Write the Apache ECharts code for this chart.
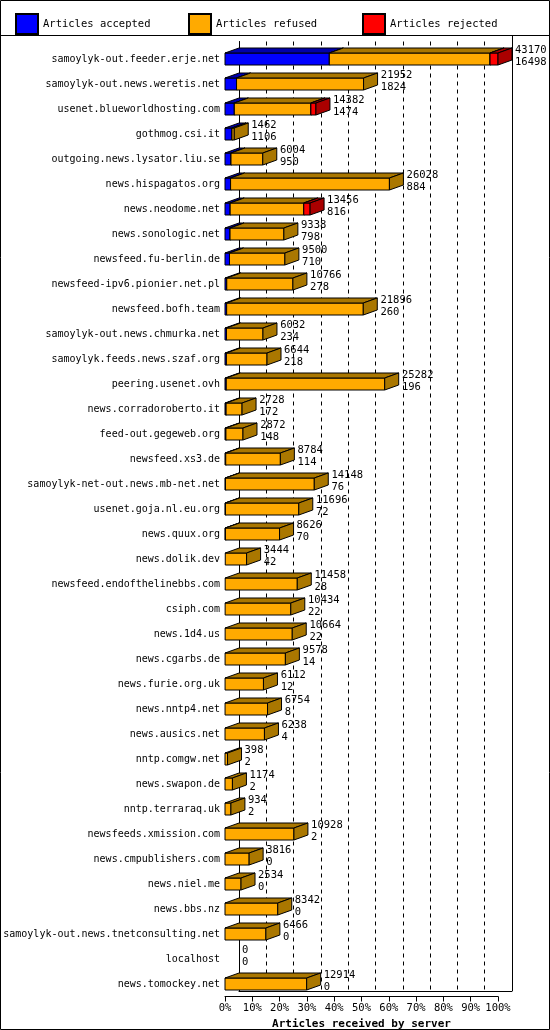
<!DOCTYPE html>
<html>
<head>
<meta charset="utf-8">
<script src="https://cdn.jsdelivr.net/npm/echarts@6/dist/echarts.min.js"></script>
<style>html,body{margin:0;padding:0;background:#fff}#main{width:550px;height:1030px}</style>
</head>
<body>
<div id="main"></div>
<script>
var servers = ['samoylyk-out.feeder.erje.net','samoylyk-out.news.weretis.net','usenet.blueworldhosting.com','gothmog.csi.it',
  'outgoing.news.lysator.liu.se','news.hispagatos.org','news.neodome.net','news.sonologic.net','newsfeed.fu-berlin.de',
  'newsfeed-ipv6.pionier.net.pl','newsfeed.bofh.team','samoylyk-out.news.chmurka.net','samoylyk.feeds.news.szaf.org',
  'peering.usenet.ovh','news.corradoroberto.it','feed-out.gegeweb.org','newsfeed.xs3.de','samoylyk-net-out.news.mb-net.net',
  'usenet.goja.nl.eu.org','news.quux.org','news.dolik.dev','newsfeed.endofthelinebbs.com','csiph.com','news.1d4.us',
  'news.cgarbs.de','news.furie.org.uk','news.nntp4.net','news.ausics.net','nntp.comgw.net','news.swapon.de',
  'nntp.terraraq.uk','newsfeeds.xmission.com','news.cmpublishers.com','news.niel.me','news.bbs.nz',
  'samoylyk-out.news.tnetconsulting.net','localhost','news.tomockey.net'];
var offered = [43170,21952,14382,1462,6004,26028,13456,9338,9500,10766,21896,6032,6644,25282,2728,2872,8784,14148,
  11696,8626,3444,11458,10434,10664,9578,6112,6754,6238,398,1174,934,10928,3816,2534,8342,6466,0,12914];
var accepted = [16498,1824,1474,1106,950,884,816,798,710,278,260,234,218,196,172,148,114,76,72,70,42,28,22,22,14,12,8,4,
  2,2,2,2,0,0,0,0,0,0];
var rejected = [1260,40,800,0,30,30,1000,30,30,30,30,30,0,30,30,30,30,30,30,0,30,30,30,30,30,30,30,0,0,0,0,30,0,0,0,0,0,0];

var maxVal = 43170;
var DX = 14, DY = 5, H = 12;
var FONT = '"DejaVu Sans Mono"';

function segData(k) {
  return servers.map(function (s, i) {
    var a = accepted[i], r = rejected[i], f = offered[i] - a - r;
    var starts = [0, a, a + f], ends = [a, a + f, offered[i]];
    return [starts[k], ends[k], i, offered[i], accepted[i]];
  });
}

function makeRender(front, dark, withLabel) {
  return function (params, api) {
    var i = api.value(2);
    var p0 = api.coord([api.value(0), i]);
    var p1 = api.coord([api.value(1), i]);
    var x0 = p0[0], x1 = p1[0], yt = p0[1] - H / 2, yb = p0[1] + H / 2;
    var children = [];
    if (x1 - x0 > 0.3) {
      children.push({type: 'rect', shape: {x: x0, y: yt, width: x1 - x0, height: H},
        style: {fill: front, stroke: '#000', lineWidth: 1}});
      children.push({type: 'polygon', shape: {points: [[x0, yt], [x1, yt], [x1 + DX, yt - DY], [x0 + DX, yt - DY]]},
        style: {fill: dark, stroke: '#000', lineWidth: 1}});
      children.push({type: 'polygon', shape: {points: [[x1, yt], [x1 + DX, yt - DY], [x1 + DX, yb - DY], [x1, yb]]},
        style: {fill: dark, stroke: '#000', lineWidth: 1}});
    }
    if (withLabel) {
      children.push({type: 'text', x: x1 + DX + 3, y: p0[1] - 3,
        style: {text: api.value(3) + '\n' + api.value(4), fill: '#000', font: '10.5px ' + FONT,
          lineHeight: 12, verticalAlign: 'middle', align: 'left'}});
    }
    return {type: 'group', children: children};
  };
}

var names = ['Articles accepted', 'Articles refused', 'Articles rejected'];
var fronts = ['#0000ff', '#ffaa00', '#ff0000'];
var darks = ['#0000aa', '#aa7700', '#aa0000'];

var series = [0, 1, 2].map(function (k) {
  return {
    name: names[k], type: 'custom', xAxisIndex: 0, yAxisIndex: 0,
    itemStyle: {color: fronts[k], borderColor: '#000', borderWidth: 1},
    encode: {x: [0, 1], y: 2},
    renderItem: makeRender(fronts[k], darks[k], k === 2),
    data: segData(k), animation: false
  };
});

var legends = [10, 183, 357].map(function (l, k) {
  return {data: [names[k]], left: l, top: 8, itemWidth: 22, itemHeight: 20, itemGap: 6,
    icon: 'rect', textStyle: {fontFamily: FONT, fontSize: 10.5, color: '#000'}};
});

var option = {
  backgroundColor: '#fff',
  animation: false,
  legend: legends,
  grid: [
    {left: 225, right: 52, top: 46.5, bottom: 33.5, containLabel: false, outerBoundsMode: 'none'},
    {left: 239, right: 38, top: 41.5, bottom: 38.5, containLabel: false, outerBoundsMode: 'none'}
  ],
  xAxis: [
    {gridIndex: 0, type: 'value', min: 0, max: maxVal, interval: 4317,
      axisLine: {show: true, lineStyle: {color: '#000'}}, axisTick: {show: true, length: 5, lineStyle: {color: '#000'}},
      splitLine: {show: false},
      axisLabel: {fontFamily: FONT, fontSize: 10.5, color: '#000', margin: 6,
        formatter: function (v) { return Math.round(v / maxVal * 100) + '%'; }},
      name: 'Articles received by server', nameLocation: 'middle', nameGap: 20,
      nameTextStyle: {fontFamily: FONT, fontSize: 11, fontWeight: 'bold', color: '#000'}},
    {gridIndex: 1, type: 'value', min: 0, max: maxVal, interval: 4317,
      axisLine: {show: true, lineStyle: {color: '#000'}}, axisTick: {show: false}, axisLabel: {show: false},
      splitLine: {show: true, lineStyle: {color: '#000', type: [4, 4]}}}
  ],
  yAxis: [
    {gridIndex: 0, type: 'category', data: servers, inverse: true,
      axisLine: {show: false}, axisTick: {show: false},
      axisLabel: {fontFamily: FONT, fontSize: 10, color: '#000', margin: 5, interval: 0}},
    {gridIndex: 1, type: 'category', data: servers, inverse: true,
      axisLine: {show: true, lineStyle: {color: '#000'}}, axisTick: {show: false}, axisLabel: {show: false}}
  ],
  graphic: [
    {type: 'rect', shape: {x: 0.5, y: 0.5, width: 549, height: 1029}, style: {fill: 'none', stroke: '#000'}},
    {type: 'line', shape: {x1: 0, y1: 35.5, x2: 550, y2: 35.5}, style: {stroke: '#000'}},
    {type: 'line', shape: {x1: 512.5, y1: 35, x2: 512.5, y2: 991}, style: {stroke: '#000'}}
  ],
  series: series
};

var chart = echarts.init(document.getElementById('main'));
chart.setOption(option);
</script>
</body>
</html>
